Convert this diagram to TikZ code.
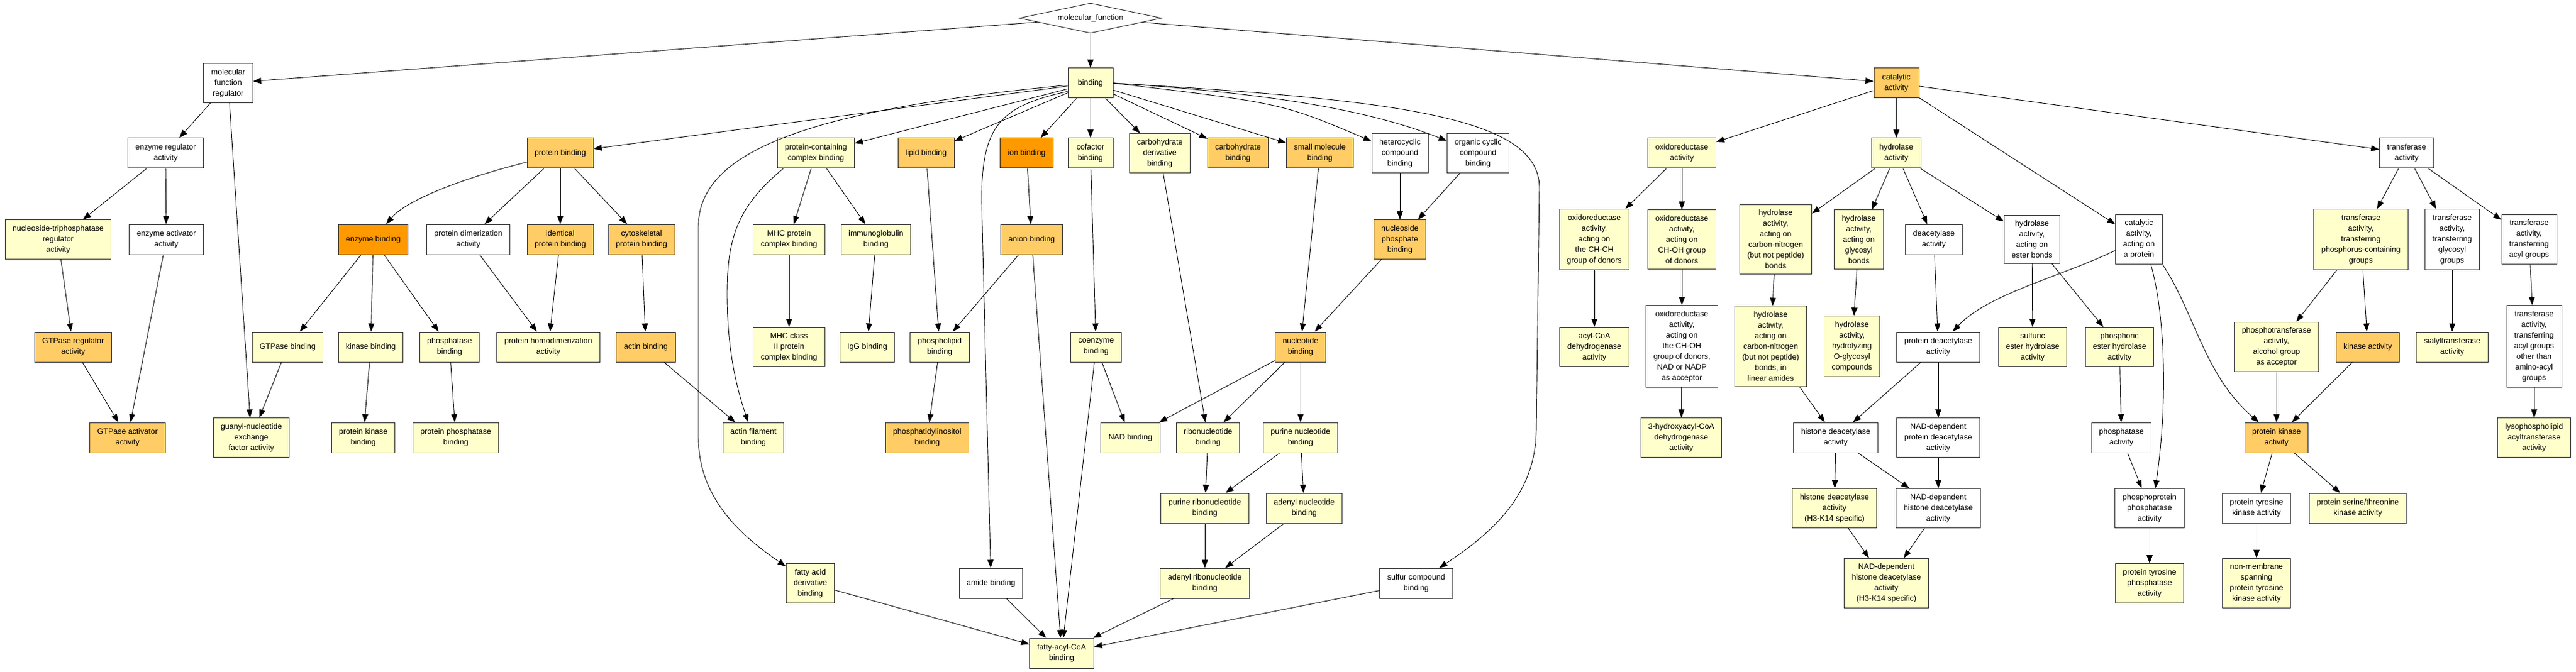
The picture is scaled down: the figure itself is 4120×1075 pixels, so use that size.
\documentclass[tikz,border=0pt]{standalone}
\usepackage{fontspec}
\setmainfont{Liberation Sans}
\usetikzlibrary{shapes.geometric,arrows.meta}
\definecolor{golight}{HTML}{FFFFCC}
\definecolor{gomid}{HTML}{FFCC66}
\definecolor{godark}{HTML}{FF9900}

\begin{document}
\begin{tikzpicture}[x=1pt, y=-1pt,
  term/.style={draw=black!80, line width=1pt, rectangle, align=center,
    inner xsep=12pt, inner ysep=8.5pt, minimum width=72pt, minimum height=48pt,
    font=\fontsize{12.5pt}{17pt}\selectfont},
  wt/.style={term, fill=white},
  lt/.style={term, fill=golight},
  md/.style={term, fill=gomid},
  dk/.style={term, fill=godark},
  edge/.style={draw=black, line width=0.9pt, -{Triangle[length=13pt,width=9.5pt]}}]
\fill[white] (0,0) rectangle (4120,1075);
\useasboundingbox (0,0) rectangle (4120,1075);

% root
\node[draw=black!80, line width=1pt, fill=white, diamond, aspect=4.75, minimum width=228pt,
  minimum height=48pt, inner sep=0pt, font=\fontsize{12.5pt}{17pt}\selectfont] (mf) at (1744,29) {molecular\_function};

% level 1
\node[wt] (mfr) at (365,133) {molecular\\function\\regulator};
\node[lt] (bind) at (1744,133) {binding};
\node[md] (cat) at (3033,133) {catalytic\\activity};

% level 2
\node[wt] (era) at (265,245) {enzyme regulator\\activity};
\node[md] (prot) at (896,245) {protein binding};
\node[lt] (pccb) at (1305,245) {protein-containing\\complex binding};
\node[md] (lipid) at (1481,245) {lipid binding};
\node[dk] (ion) at (1642,245) {ion binding};
\node[lt] (cofac) at (1744,245) {cofactor\\binding};
\node[lt] (carbder) at (1855,245) {carbohydrate\\derivative\\binding};
\node[md] (carb) at (1980,245) {carbohydrate\\binding};
\node[md] (smallmol) at (2111,245) {small molecule\\binding};
\node[wt] (hetero) at (2239,245) {heterocyclic\\compound\\binding};
\node[wt] (orgcyc) at (2364,245) {organic cyclic\\compound\\binding};
\node[lt] (oxido) at (2690,245) {oxidoreductase\\activity};
\node[lt] (hydro) at (3033,245) {hydrolase\\activity};
\node[wt] (trans) at (3849,245) {transferase\\activity};

% level 3
\node[lt] (ntra) at (93,383) {nucleoside-triphosphatase\\regulator\\activity};
\node[wt] (eaa) at (266,383) {enzyme activator\\activity};
\node[dk] (enzb) at (597,383) {enzyme binding};
\node[wt] (dimer) at (749,383) {protein dimerization\\activity};
\node[md] (ident) at (896,383) {identical\\protein binding};
\node[md] (cyto) at (1026,383) {cytoskeletal\\protein binding};
\node[lt] (mhc) at (1262,383) {MHC protein\\complex binding};
\node[lt] (immuno) at (1401,383) {immunoglobulin\\binding};
\node[md] (anion) at (1650,383) {anion binding};
\node[md] (nucphos) at (2239,383) {nucleoside\\phosphate\\binding};
\node[lt] (chch) at (2550,383) {oxidoreductase\\activity,\\acting on\\the CH-CH\\group of donors};
\node[lt] (choh) at (2690,383) {oxidoreductase\\activity,\\acting on\\CH-OH group\\of donors};
\node[lt] (cn) at (2840,383) {hydrolase\\activity,\\acting on\\carbon-nitrogen\\(but not peptide)\\bonds};
\node[lt] (glyco) at (2973,383) {hydrolase\\activity,\\acting on\\glycosyl\\bonds};
\node[wt] (deac) at (3093,383) {deacetylase\\activity};
\node[wt] (ester) at (3250,383) {hydrolase\\activity,\\acting on\\ester bonds};
\node[wt] (catprot) at (3421,383) {catalytic\\activity,\\acting on\\a protein};
\node[lt] (phosgrp) at (3776,383) {transferase\\activity,\\transferring\\phosphorus-containing\\groups};
\node[wt] (glygrp) at (3922,383) {transferase\\activity,\\transferring\\glycosyl\\groups};
\node[wt] (acylgrp) at (4045,383) {transferase\\activity,\\transferring\\acyl groups};

% level 4
\node[md] (gra) at (117,555) {GTPase regulator\\activity};
\node[lt] (gtpb) at (460,555) {GTPase binding};
\node[lt] (kinb) at (593,555) {kinase binding};
\node[lt] (phosb) at (719,555) {phosphatase\\binding};
\node[lt] (homod) at (877,555) {protein homodimerization\\activity};
\node[md] (actin) at (1033,555) {actin binding};
\node[lt] (mhc2) at (1262,555) {MHC class\\II protein\\complex binding};
\node[lt] (igg) at (1387,555) {IgG binding};
\node[lt] (phlip) at (1503,555) {phospholipid\\binding};
\node[lt] (coenz) at (1753,555) {coenzyme\\binding};
\node[md] (nucl) at (2080,555) {nucleotide\\binding};
\node[lt] (acylcoa) at (2550,555) {acyl-CoA\\dehydrogenase\\activity};
\node[wt] (nadp) at (2690,554) {oxidoreductase\\activity,\\acting on\\the CH-OH\\group of donors,\\NAD or NADP\\as acceptor};
\node[lt] (linam) at (2832,554) {hydrolase\\activity,\\acting on\\carbon-nitrogen\\(but not peptide)\\bonds, in\\linear amides};
\node[lt] (oglyc) at (2962,554) {hydrolase\\activity,\\hydrolyzing\\O-glycosyl\\compounds};
\node[wt] (pdeac) at (3100,555) {protein deacetylase\\activity};
\node[lt] (sulf) at (3251,555) {sulfuric\\ester hydrolase\\activity};
\node[lt] (phosest) at (3390,555) {phosphoric\\ester hydrolase\\activity};
\node[lt] (ptalc) at (3641,555) {phosphotransferase\\activity,\\alcohol group\\as acceptor};
\node[md] (kinact) at (3787,555) {kinase activity};
\node[lt] (sialyl) at (3922,555) {sialyltransferase\\activity};
\node[wt] (amacyl) at (4053,554) {transferase\\activity,\\transferring\\acyl groups\\other than\\amino-acyl\\groups};

% level 5
\node[md] (gaa) at (204,700) {GTPase activator\\activity};
\node[lt] (gef) at (402,700) {guanyl-nucleotide\\exchange\\factor activity};
\node[lt] (pkb) at (581,700) {protein kinase\\binding};
\node[lt] (ppb) at (729,700) {protein phosphatase\\binding};
\node[lt] (actfil) at (1205,700) {actin filament\\binding};
\node[md] (ptdins) at (1483,700) {phosphatidylinositol\\binding};
\node[lt] (nad) at (1808,700) {NAD binding};
\node[lt] (ribo) at (1932,700) {ribonucleotide\\binding};
\node[lt] (purnuc) at (2080,700) {purine nucleotide\\binding};
\node[lt] (hacoa) at (2689,700) {3-hydroxyacyl-CoA\\dehydrogenase\\activity};
\node[wt] (hdac) at (2936,700) {histone deacetylase\\activity};
\node[wt] (nadpdeac) at (3100,700) {NAD-dependent\\protein deacetylase\\activity};
\node[wt] (phosact) at (3393,700) {phosphatase\\activity};
\node[md] (pkact) at (3641,700) {protein kinase\\activity};
\node[lt] (lyso) at (4053,700) {lysophospholipid\\acyltransferase\\activity};

% level 6
\node[lt] (purribo) at (1927,813) {purine ribonucleotide\\binding};
\node[lt] (adenuc) at (2086,813) {adenyl nucleotide\\binding};
\node[lt] (h3k14) at (2934,813) {histone deacetylase\\activity\\(H3-K14 specific)};
\node[wt] (nadhdac) at (3100,813) {NAD-dependent\\histone deacetylase\\activity};
\node[wt] (ppp) at (3438,813) {phosphoprotein\\phosphatase\\activity};
\node[wt] (ptk) at (3609,813) {protein tyrosine\\kinase activity};
\node[lt] (pstk) at (3771,813) {protein serine/threonine\\kinase activity};

% level 7
\node[lt] (fad) at (1296,933) {fatty acid\\derivative\\binding};
\node[wt] (amide) at (1585,933) {amide binding};
\node[lt] (adribo) at (1927,933) {adenyl ribonucleotide\\binding};
\node[wt] (sulfur) at (2265,933) {sulfur compound\\binding};
\node[lt] (nadh3) at (3017,933) {NAD-dependent\\histone deacetylase\\activity\\(H3-K14 specific)};
\node[lt] (ptp) at (3438,933) {protein tyrosine\\phosphatase\\activity};
\node[lt] (nmptk) at (3609,933) {non-membrane\\spanning\\protein tyrosine\\kinase activity};

% level 8
\node[lt] (facoa) at (1698,1045) {fatty-acyl-CoA\\binding};

% edges from the root
\draw[edge] (mf) -- (mfr);
\draw[edge] (mf) -- (bind);
\draw[edge] (mf) -- (cat);

% regulator branch
\draw[edge] (mfr) -- (era);
\draw[edge] (mfr) -- (gef);
\draw[edge] (era) -- (ntra);
\draw[edge] (era) -- (eaa);
\draw[edge] (ntra) -- (gra);
\draw[edge] (gra) -- (gaa);
\draw[edge] (eaa) -- (gaa);
\draw[edge] (gtpb) -- (gef);
\draw[edge] (enzb) -- (gtpb);
\draw[edge] (enzb) -- (kinb);
\draw[edge] (enzb) -- (phosb);
\draw[edge] (kinb) -- (pkb);
\draw[edge] (phosb) -- (ppb);

% binding branch
\draw[edge] (bind) -- (prot);
\draw[edge] (bind) -- (pccb);
\draw[edge] (bind) -- (lipid);
\draw[edge] (bind) -- (ion);
\draw[edge] (bind) -- (cofac);
\draw[edge] (bind) -- (carbder);
\draw[edge] (bind) -- (carb);
\draw[edge] (bind) -- (smallmol);
\draw[edge] (bind.east) .. controls (2050,165) .. (hetero);
\draw[edge] (bind.east) .. controls (2050,150) and (2200,180) .. (orgcyc);
\draw[edge] (bind.185) .. controls (1300,175) and (1117,240) .. (1117,362) -- (1117,700) .. controls (1117,800) and (1190,860) .. (fad);
\draw[edge] (bind.200) .. controls (1600,170) and (1570,200) .. (1570,320) -- (amide);
\draw[edge] (bind.east) .. controls (2250,160) and (2462,190) .. (2462,300) -- (2457,690) .. controls (2455,790) and (2390,850) .. (sulfur);
\draw[edge] (prot.195) .. controls (740,285) and (650,320) .. (enzb);
\draw[edge] (prot) -- (dimer);
\draw[edge] (prot) -- (ident);
\draw[edge] (prot) -- (cyto);
\draw[edge] (dimer) -- (homod);
\draw[edge] (ident) -- (homod);
\draw[edge] (cyto) -- (actin);
\draw[edge] (actin) -- (actfil);
\draw[edge] (pccb) -- (mhc);
\draw[edge] (pccb) -- (immuno);
\draw[edge] ([xshift=10pt]pccb.south west) .. controls (1180,330) and (1163,380) .. (1163,470) .. controls (1163,560) and (1178,620) .. (actfil);
\draw[edge] (mhc) -- (mhc2);
\draw[edge] (immuno) -- (igg);
\draw[edge] (lipid) -- (phlip);
\draw[edge] (ion) -- (anion);
\draw[edge] (anion) -- (phlip);
\draw[edge] (anion) -- (facoa);
\draw[edge] (phlip) -- (ptdins);
\draw[edge] (cofac) -- (coenz);
\draw[edge] (coenz) -- (nad);
\draw[edge] (coenz) -- (facoa);
\draw[edge] (carbder) -- (ribo);
\draw[edge] (smallmol) -- (nucl);
\draw[edge] (hetero) -- (nucphos);
\draw[edge] (orgcyc) -- (nucphos);
\draw[edge] (nucphos) -- (nucl);
\draw[edge] (nucl) -- (nad);
\draw[edge] (nucl) -- (ribo);
\draw[edge] (nucl) -- (purnuc);
\draw[edge] (ribo) -- (purribo);
\draw[edge] (purnuc) -- (purribo);
\draw[edge] (purnuc) -- (adenuc);
\draw[edge] (purribo) -- (adribo);
\draw[edge] (adenuc) -- (adribo);
\draw[edge] (fad) -- (facoa);
\draw[edge] (amide) -- (facoa);
\draw[edge] (adribo) -- (facoa);
\draw[edge] (sulfur) -- (facoa);

% catalytic branch
\draw[edge] (cat) -- (oxido);
\draw[edge] (cat) -- (hydro);
\draw[edge] (cat) -- (catprot);
\draw[edge] (cat) -- (trans);
\draw[edge] (oxido) -- (chch);
\draw[edge] (oxido) -- (choh);
\draw[edge] (chch) -- (acylcoa);
\draw[edge] (choh) -- (nadp);
\draw[edge] (nadp) -- (hacoa);
\draw[edge] (hydro) -- (cn);
\draw[edge] (hydro) -- (glyco);
\draw[edge] (hydro) -- (deac);
\draw[edge] (hydro) -- (ester);
\draw[edge] (cn) -- (linam);
\draw[edge] (glyco) -- (oglyc);
\draw[edge] (deac) -- (pdeac);
\draw[edge] (ester) -- (sulf);
\draw[edge] (ester) -- (phosest);
\draw[edge] (catprot.205) .. controls (3290,445) and (3180,470) .. (pdeac);
\draw[edge] ([xshift=19pt]catprot.south) .. controls (3462,500) and (3468,640) .. ([xshift=9pt]ppp.north);
\draw[edge] (catprot.south east) .. controls (3510,500) and (3525,600) .. (pkact);
\draw[edge] (linam) -- (hdac);
\draw[edge] (pdeac) -- (hdac);
\draw[edge] (pdeac) -- (nadpdeac);
\draw[edge] (hdac) -- (h3k14);
\draw[edge] (hdac) -- (nadhdac);
\draw[edge] (nadpdeac) -- (nadhdac);
\draw[edge] (h3k14) -- (nadh3);
\draw[edge] (nadhdac) -- (nadh3);
\draw[edge] (phosest) -- (phosact);
\draw[edge] (phosact) -- (ppp);
\draw[edge] (ppp) -- (ptp);
\draw[edge] (trans) -- (phosgrp);
\draw[edge] (trans) -- (glygrp);
\draw[edge] (trans) -- (acylgrp);
\draw[edge] (phosgrp) -- (ptalc);
\draw[edge] (phosgrp) -- (kinact);
\draw[edge] (ptalc) -- (pkact);
\draw[edge] (kinact) -- (pkact);
\draw[edge] (glygrp) -- (sialyl);
\draw[edge] (acylgrp) -- (amacyl);
\draw[edge] (amacyl) -- (lyso);
\draw[edge] (pkact) -- (ptk);
\draw[edge] (pkact) -- (pstk);
\draw[edge] (ptk) -- (nmptk);

\end{tikzpicture}
\end{document}
